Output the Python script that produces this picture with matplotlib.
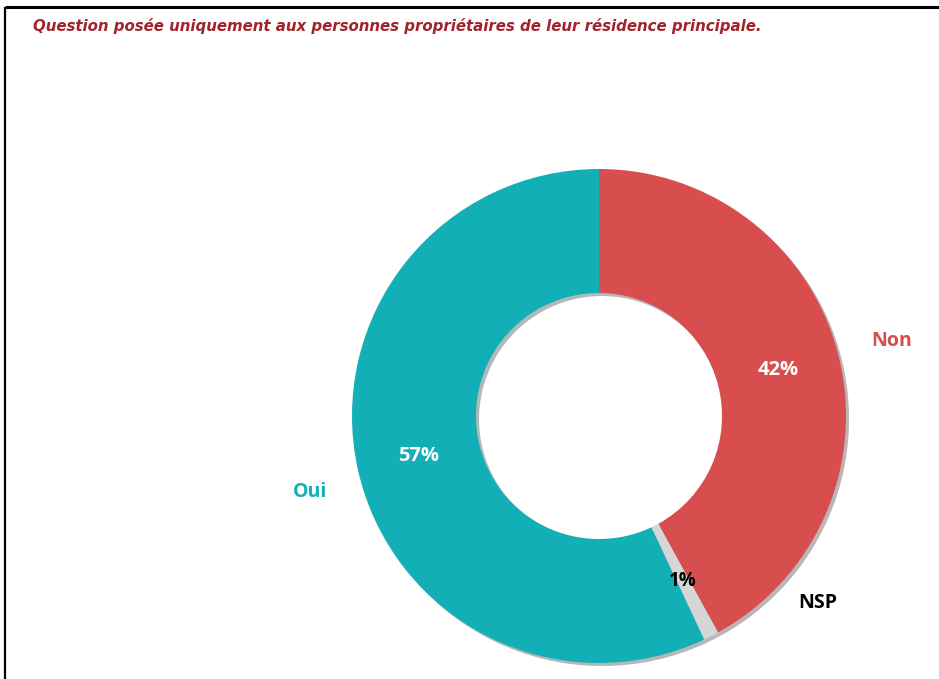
import matplotlib
matplotlib.use("Agg")
import matplotlib.pyplot as plt

# ── data ────────────────────────────────────────────────────────────────
CATEGORIES = ["Non", "NSP", "Oui"]
VALUES = [42, 1, 57]
PCT_LABELS = ["42%", "1%", "57%"]
COLORS = ["#D84E4F", "#D6D6D6", "#13AFB7"]
LABEL_COLORS = ["#D84E4F", "#000000", "#13AFB7"]
PCT_COLORS = ["white", "black", "white"]
TITLE = "Question posée uniquement aux personnes propriétaires de leur résidence principale."

W, H = 939, 679
CENTER = (599, H - 416)
R_OUT = 247
R_IN = 123

fig = plt.figure(figsize=(W / 100, H / 100), dpi=100)
ax = fig.add_axes([0, 0, 1, 1])

wedges, texts, autotexts = ax.pie(
    VALUES,
    colors=COLORS,
    labels=CATEGORIES,
    autopct="%1.0f%%",
    startangle=90,
    counterclock=False,
    radius=R_OUT,
    center=CENTER,
    labeldistance=1.225,
    pctdistance=0.75,
    wedgeprops=dict(width=R_OUT - R_IN, linewidth=0),
    shadow=dict(ox=2.2, oy=-2.2, shade=0.85, alpha=0.3),
    frame=True,
)

for t, c in zip(texts, LABEL_COLORS):
    t.set_color(c)
    t.set_fontsize(14)
    t.set_fontweight("bold")
    t.set_family(["Open Sans", "DejaVu Sans"])
    t.set_ha("center")
    t.set_va("center")
# NSP label sits outside the ring, lower right; Oui a little lower
texts[1].set_position((818, H - 603))
texts[2].set_position((310, H - 492))

for t, c, s in zip(autotexts, PCT_COLORS, PCT_LABELS):
    t.set_text(s)
    t.set_color(c)
    t.set_fontsize(14.5 if c == "white" else 13.5)
    t.set_fontweight("bold")
    t.set_family(["Open Sans", "DejaVu Sans"])

ax.set_xlim(0, W)
ax.set_ylim(0, H)
ax.set_aspect("equal")
ax.axis("off")

# title
ax.text(
    33, H - 26, TITLE,
    fontsize=10.8, fontstyle="italic", fontweight="bold",
    color="#A0242A", ha="left", va="center",
    family=["DejaVu Sans"],
)

# screenshot frame
ax.plot([5, W], [H - 7, H - 7], color="black", linewidth=2.2, solid_capstyle="butt")
ax.plot([5, 5], [0, H - 7], color="black", linewidth=1.6, solid_capstyle="butt")

fig.savefig("out.png", dpi=100)
